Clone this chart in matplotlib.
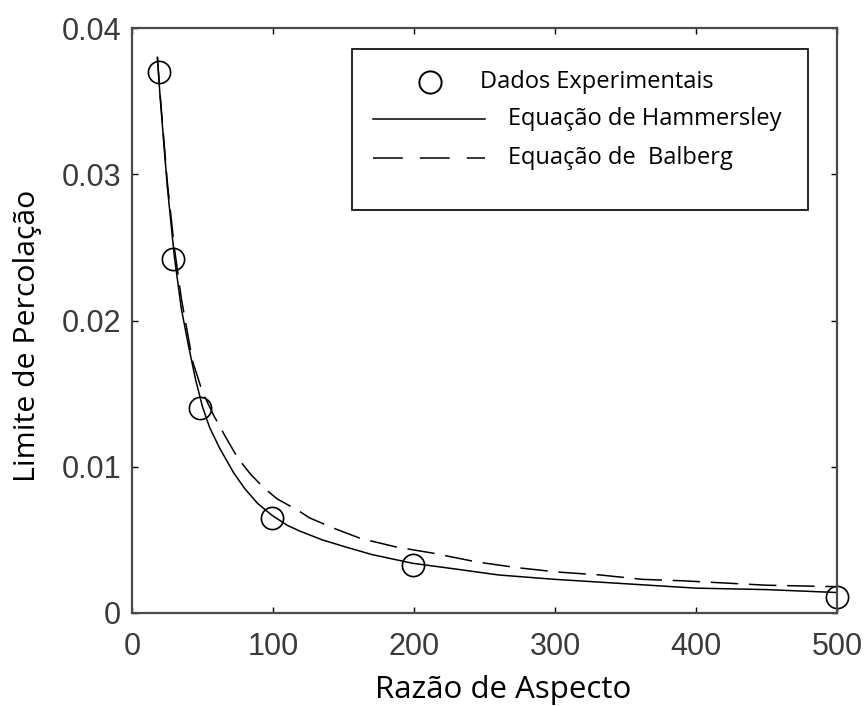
import matplotlib
matplotlib.use("Agg")
import matplotlib.pyplot as plt
from matplotlib.patches import Rectangle
from matplotlib.lines import Line2D

# Experimental percolation thresholds vs. aspect ratio
exp_ratio = [19, 29, 48, 99, 199, 500]
exp_threshold = [0.0370, 0.0242, 0.0140, 0.0065, 0.0033, 0.0011]

# Hammersley equation curve (sampled)
ham_ratio = [18, 20, 25, 30, 35, 40, 45, 50, 55, 62, 72, 80, 89, 99, 110,
             119, 135, 152, 170, 199, 230, 260, 300, 350, 400, 450, 500]
ham_threshold = [0.0380, 0.0352, 0.0292, 0.0244, 0.0208, 0.0183, 0.0160,
                 0.0141, 0.0127, 0.0113, 0.0096, 0.0085, 0.0075, 0.0067,
                 0.0060, 0.0056, 0.0050, 0.0045, 0.0040, 0.0034, 0.0030,
                 0.0026, 0.0023, 0.0020, 0.0017, 0.0016, 0.0014]

# Balberg equation curve (sampled)
bal_ratio = [18, 20, 25, 30, 35, 43, 50, 58, 66, 75, 84, 93, 103, 118, 126,
             143, 162, 188, 213, 244, 273, 302, 332, 362, 391, 450, 500]
bal_threshold = [0.0380, 0.0354, 0.0295, 0.0250, 0.0215, 0.0172, 0.0151,
                 0.0135, 0.0121, 0.0106, 0.0095, 0.0086, 0.0078, 0.0070,
                 0.0065, 0.0058, 0.0051, 0.0045, 0.0041, 0.0035, 0.0031,
                 0.0028, 0.0026, 0.0023, 0.0022, 0.0019, 0.0018]

x_ticks = [0, 100, 200, 300, 400, 500]
y_ticks = [0, 0.01, 0.02, 0.03, 0.04]
y_tick_labels = ["0", "0.01", "0.02", "0.03", "0.04"]

legend_labels = ["Dados Experimentais", "Equação de Hammersley", "Equação de  Balberg"]

label_font = ["Open Sans", "DejaVu Sans"]
tick_font = ["Liberation Sans", "DejaVu Sans"]

fig = plt.figure(figsize=(8.66, 7.06), dpi=100)
ax = fig.add_axes([132 / 866, 1 - 613 / 706, 705 / 866, 585 / 706])

ax.plot(ham_ratio, ham_threshold, color="black", lw=1.1)
ax.plot(bal_ratio, bal_threshold, color="black", lw=1.1, dashes=(18, 7))
ax.plot(exp_ratio, exp_threshold, linestyle="none", marker="o", ms=16,
        mfc="none", mec="black", mew=1.2, clip_on=False)

ax.set_xlim(0, 500)
ax.set_ylim(0, 0.04)
ax.set_xticks(x_ticks)
ax.set_yticks(y_ticks)
ax.set_yticklabels(y_tick_labels)
ax.tick_params(direction="in", length=4, width=1, color="black",
               top=True, right=True, labelsize=22, labelcolor="#3a3a3a")
ax.tick_params(axis="x", pad=14)
ax.tick_params(axis="y", pad=8)
for lab in ax.get_xticklabels() + ax.get_yticklabels():
    lab.set_family(tick_font)
for sp in ax.spines.values():
    sp.set_color("#4a4a4a")
    sp.set_linewidth(1.6)

ax.set_xlabel("Razão de Aspecto", family=label_font, fontsize=22.5,
              va="center")
ax.xaxis.set_label_coords((503 - 132) / 705, -(690 - 613) / 585)
ax.set_ylabel("Limite de Percolação", family=label_font, fontsize=21.8,
              va="center")
ax.yaxis.set_label_coords((28 - 132) / 705, (613 - 336) / 585)

# Hand-built legend box
ax.add_patch(Rectangle((0.312, 0.689), 0.647, 0.275, transform=ax.transAxes,
                       fill=False, ec="black", lw=1.2, zorder=5))
ax.add_line(Line2D([0.4227], [0.9077], transform=ax.transAxes, marker="o",
                   ms=16, mfc="none", mec="black", mew=1.4, linestyle="none"))
ax.text(0.4936, 0.9077, legend_labels[0], transform=ax.transAxes,
        family=label_font, fontsize=17, va="center", ha="left")
ax.add_line(Line2D([0.3418, 0.5007], [0.8444, 0.8444], transform=ax.transAxes,
                   color="black", lw=1.1))
ax.text(0.5333, 0.8444, legend_labels[1], transform=ax.transAxes,
        family=label_font, fontsize=17, va="center", ha="left")
ax.add_line(Line2D([0.3418, 0.5007], [0.7778, 0.7778], transform=ax.transAxes,
                   color="black", lw=1.1, dashes=(19.5, 11.2)))
ax.text(0.5333, 0.7778, legend_labels[2], transform=ax.transAxes,
        family=label_font, fontsize=17, va="center", ha="left")

fig.savefig("out.png", dpi=100)
